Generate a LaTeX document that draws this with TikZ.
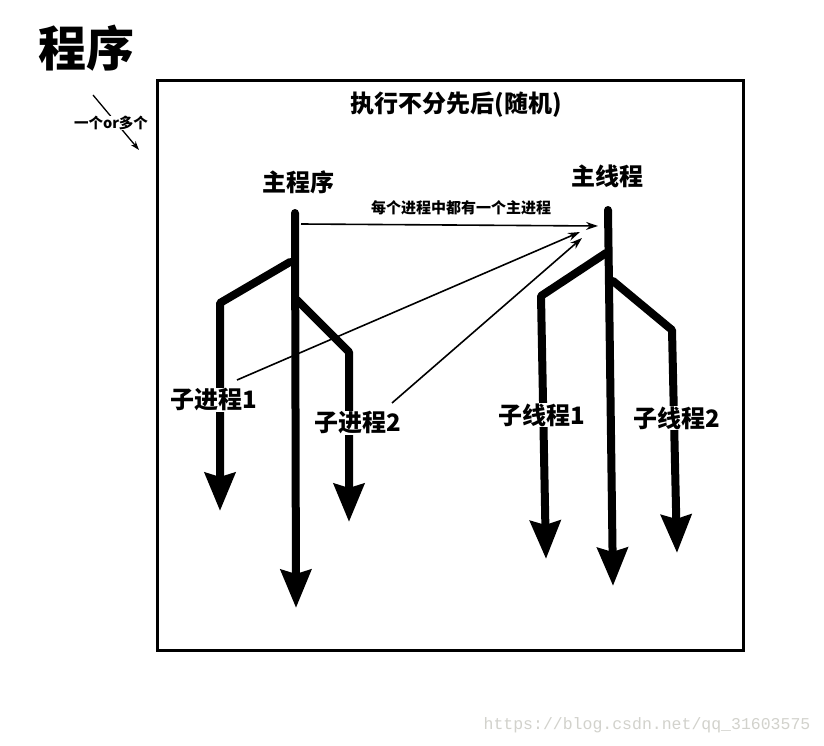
\documentclass[tikz,border=0pt]{standalone}
\usepackage{fontspec}
\newfontfamily\cjk{Noto Sans CJK SC}
\newfontfamily\markfont{Liberation Mono}
\usetikzlibrary{arrows.meta}
\definecolor{pgInk}{HTML}{000000}
\definecolor{pgMark}{HTML}{D2D2CC}
\tikzset{
  pg frame/.style={draw=pgInk, line width=3pt},
  pg flow/.style={
    draw=pgInk,
    line width=8pt,
    line cap=round,
    line join=bevel,
    -{Stealth[length=38pt,width=30pt,inset=4pt]}
  },
  pg link/.style={
    draw=pgInk,
    line width=1.6pt,
    -{Stealth[length=12pt,width=8pt]}
  },
  pg hint/.style={
    draw=pgInk,
    line width=1.3pt,
    -{Stealth[length=9pt,width=6pt]}
  },
  pg text/.style={text=pgInk, fill=white, inner sep=1pt},
  pg title/.style={pg text, font=\cjk\bfseries\fontsize{48}{52}\selectfont},
  pg label/.style={pg text, font=\cjk\bfseries\fontsize{24}{28}\selectfont},
  pg small/.style={pg text, font=\cjk\bfseries\fontsize{15}{18}\selectfont},
  pg tiny/.style={pg text, font=\cjk\bfseries\fontsize{14.5}{17}\selectfont, inner sep=0pt},
  pg mark/.style={font=\markfont\fontsize{16.5}{18}\selectfont, text=pgMark, inner sep=0pt}
}

\begin{document}
\begin{tikzpicture}[x=1pt,y=-1pt]
  \useasboundingbox[fill=white] (0,0) rectangle (824,746);

  % heading and the box of one program
  \node[pg title] (prog) at (86,48) {程序};
  \draw[pg frame] (157,81) rectangle (743,650);
  \node[pg label] (order) at (456,105) {执行不分先后(随机)};

  \coordinate (hintA) at (93,95);
  \coordinate (hintB) at (139,150);
  \draw[pg hint] (hintA) -- (hintB);
  \node[pg tiny] (many) at (111,123) {一个or多个};

  % process side
  \coordinate (pTop) at (295,213);
  \coordinate (pEnd) at (296,608);
  \coordinate (pSplitA) at (290,262);
  \coordinate (pBendA) at (220,303);
  \coordinate (pEndA) at (220,511);
  \coordinate (pSplitB) at (297,300);
  \coordinate (pBendB) at (349,352);
  \coordinate (pEndB) at (349,522);
  \draw[pg flow] (pTop) -- (pEnd);
  \draw[pg flow] (pSplitA) -- (pBendA) -- (pEndA);
  \draw[pg flow] (pSplitB) -- (pBendB) -- (pEndB);

  % thread side
  \coordinate (tTop) at (608,210);
  \coordinate (tEnd) at (613,586);
  \coordinate (tSplitA) at (606,253);
  \coordinate (tBendA) at (541,296);
  \coordinate (tEndA) at (546,559);
  \coordinate (tSplitB) at (613,281);
  \coordinate (tBendB) at (672,330);
  \coordinate (tEndB) at (677,553);
  \draw[pg flow] (tTop) -- (tEnd);
  \draw[pg flow] (tSplitA) -- (tBendA) -- (tEndA);
  \draw[pg flow] (tSplitB) -- (tBendB) -- (tEndB);

  % every process has one main thread
  \coordinate (fromMain) at (301,224);
  \coordinate (toMain) at (598,226);
  \coordinate (fromSub1) at (237,380);
  \coordinate (toSub1) at (580,232);
  \coordinate (fromSub2) at (392,403);
  \coordinate (toSub2) at (582,238);
  \draw[pg link] (fromMain) -- (toMain);
  \draw[pg link] (fromSub1) -- (toSub1);
  \draw[pg link] (fromSub2) -- (toSub2);

  \node[pg label] (main) at (298,182) {主程序};
  \node[pg label] (sub1) at (214,400) {子进程1};
  \node[pg label] (sub2) at (358,423) {子进程2};
  \node[pg label] (mainT) at (607,176) {主线程};
  \node[pg label] (thr1) at (542,415) {子线程1};
  \node[pg label] (thr2) at (677,418) {子线程2};
  \node[pg small] (each) at (461,208) {每个进程中都有一个主进程};

  \node[pg mark] (blog) at (647,725) {https://blog.csdn.net/qq\_31603575};
\end{tikzpicture}
\end{document}
